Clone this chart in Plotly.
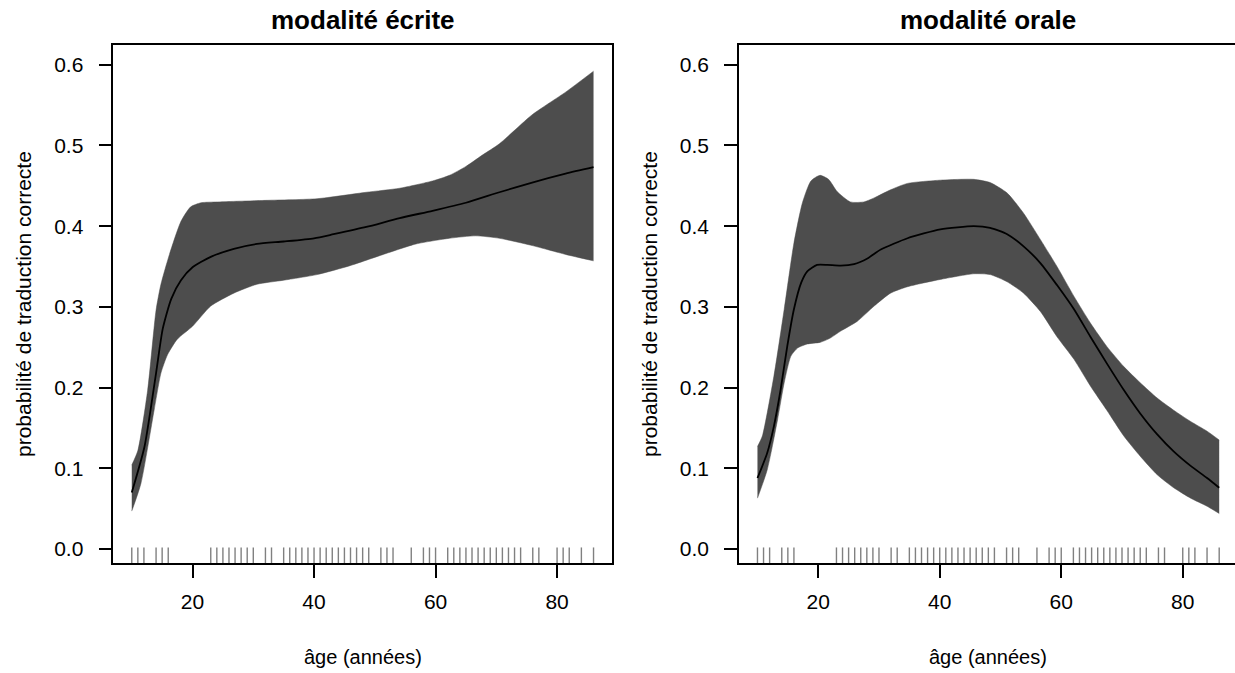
import plotly.graph_objects as go

# ---------------- data ----------------
rug_ages = [10, 11, 12, 14, 15, 16, 23, 24, 25, 26, 27, 28, 29, 30, 32, 33,
            35, 36, 37, 38, 39, 40, 41, 42, 43, 44, 45, 46, 47, 48, 49,
            51, 52, 53, 56, 58, 59, 60, 62, 63, 64, 65, 66, 67, 68, 69, 70,
            71, 72, 73, 74, 76, 77, 80, 81, 82, 84, 86]

# modalité écrite
ecr_mean_age = [10, 12.1, 14, 15.1, 16.5, 18.1, 20, 23, 26.8, 30.6, 35, 40, 43.2,
                48.6, 54.1, 59.5, 65, 70.5, 75.9, 81.4, 86]
ecr_mean = [0.070, 0.127, 0.218, 0.273, 0.310, 0.333, 0.349, 0.362, 0.372, 0.378,
            0.381, 0.385, 0.390, 0.399, 0.410, 0.419, 0.429, 0.442, 0.454, 0.465, 0.473]
ecr_up_age = [10, 11, 12.6, 14, 14.8, 16.2, 18.1, 19.7, 21.4, 24.1, 32.3, 40.5, 48.6,
              54.1, 59.5, 62.3, 65, 67.7, 70.5, 75.9, 81.4, 86]
ecr_up = [0.104, 0.122, 0.196, 0.296, 0.328, 0.365, 0.406, 0.424, 0.429, 0.430, 0.432,
          0.434, 0.442, 0.447, 0.456, 0.463, 0.474, 0.488, 0.502, 0.538, 0.566, 0.592]
ecr_lo_age = [10, 11.5, 13.7, 14.8, 15.9, 17.5, 20, 23, 26.8, 30.6, 35, 40.5, 45.9,
              51.4, 56.8, 62.3, 66.6, 70.5, 75.9, 81.4, 86]
ecr_lo = [0.047, 0.081, 0.173, 0.218, 0.241, 0.260, 0.276, 0.301, 0.317, 0.328, 0.333,
          0.340, 0.351, 0.365, 0.378, 0.385, 0.388, 0.385, 0.376, 0.365, 0.357]

# modalité orale
ora_mean_age = [10, 11.6, 12.7, 13.8, 14.9, 16, 17.2, 18.2, 19.8, 21.5, 23.7, 25.9,
                28.1, 30.3, 34.7, 40.1, 45.6, 48.3, 51.1, 53.8, 56.6, 59.3, 62.1,
                64.8, 67.5, 70.3, 73, 75.8, 78.5, 81.3, 84, 86]
ora_mean = [0.088, 0.119, 0.152, 0.197, 0.251, 0.297, 0.330, 0.344, 0.352, 0.352,
            0.351, 0.353, 0.360, 0.371, 0.385, 0.396, 0.400, 0.398, 0.390, 0.375,
            0.354, 0.327, 0.297, 0.263, 0.230, 0.197, 0.168, 0.142, 0.121, 0.103,
            0.088, 0.076]
ora_up_age = [10, 10.8, 12.7, 14.4, 16, 17.4, 18.8, 20.3, 21.7, 23.1, 25.3, 27.5,
              29.2, 31.9, 34.7, 40.1, 45.6, 48.3, 51.1, 53.8, 56.6, 59.3, 62.1,
              64.8, 67.5, 70.3, 73, 75.8, 78.5, 81.3, 84, 86]
ora_up = [0.127, 0.140, 0.214, 0.297, 0.379, 0.429, 0.456, 0.463, 0.458, 0.443,
          0.430, 0.430, 0.435, 0.445, 0.453, 0.457, 0.458, 0.454, 0.441, 0.416,
          0.383, 0.350, 0.313, 0.280, 0.251, 0.226, 0.206, 0.187, 0.172, 0.158,
          0.146, 0.135]
ora_lo_age = [10, 11.6, 13.3, 14.4, 15.5, 16.6, 18.2, 20.3, 21.9, 23.7, 26.4, 29.2,
              31.9, 34.7, 40.1, 45.6, 48.3, 51.1, 53.8, 56.6, 59.3, 62.1, 64.8,
              67.5, 70.3, 73, 75.8, 78.5, 81.3, 84, 86]
ora_lo = [0.063, 0.098, 0.160, 0.206, 0.239, 0.249, 0.254, 0.256, 0.261, 0.270,
          0.282, 0.301, 0.317, 0.325, 0.334, 0.341, 0.340, 0.331, 0.317, 0.294,
          0.263, 0.235, 0.202, 0.172, 0.140, 0.115, 0.092, 0.076, 0.063, 0.053,
          0.044]

titles = ["modalité écrite", "modalité orale"]
y_ticks = [0.0, 0.1, 0.2, 0.3, 0.4, 0.5, 0.6]
x_ticks = [20, 40, 60, 80]
x_label = "âge (années)"
y_label = "probabilité de traduction correcte"

# ---------------- layout constants ----------------
W, H = 1235, 673
YR = [-0.0173, 0.6248]
XR1 = [6.96, 89.04]
XR2 = [6.96, 88.6]
BAND = "#4D4D4D"
FONT = "Liberation Sans, Arial, sans-serif"

fig = go.Figure()


def add_panel(xa, ya, mean_x, mean_y, up_x, up_y, lo_x, lo_y):
    fig.add_trace(go.Scatter(
        x=lo_x, y=lo_y, mode="lines",
        line=dict(color=BAND, width=0.5, shape="spline", smoothing=0.6),
        xaxis=xa, yaxis=ya, hoverinfo="skip", showlegend=False))
    fig.add_trace(go.Scatter(
        x=up_x, y=up_y, mode="lines", fill="tonexty", fillcolor=BAND,
        line=dict(color=BAND, width=0.5, shape="spline", smoothing=0.6),
        xaxis=xa, yaxis=ya, hoverinfo="skip", showlegend=False))
    fig.add_trace(go.Scatter(
        x=mean_x, y=mean_y, mode="lines",
        line=dict(color="black", width=1.8, shape="spline", smoothing=0.6),
        xaxis=xa, yaxis=ya, showlegend=False))
    rx, ry = [], []
    rug_len = 0.03 * (YR[1] - YR[0])
    for a in rug_ages:
        rx += [a, a, None]
        ry += [YR[0], YR[0] + rug_len, None]
    fig.add_trace(go.Scatter(
        x=rx, y=ry, mode="lines", line=dict(color="#808080", width=1.4),
        xaxis=xa, yaxis=ya, hoverinfo="skip", showlegend=False))


add_panel("x", "y", ecr_mean_age, ecr_mean, ecr_up_age, ecr_up, ecr_lo_age, ecr_lo)
add_panel("x2", "y2", ora_mean_age, ora_mean, ora_up_age, ora_up, ora_lo_age, ora_lo)

ydom = [(H - 563) / H, (H - 44.7) / H]
x1dom = [113.3 / W, 612.0 / W]
x2dom = [739.0 / W, 1.0]

axis_common = dict(showgrid=False, zeroline=False, showline=True, linecolor="black",
                   linewidth=1.5, ticks="outside", ticklen=13, tickwidth=1.5,
                   tickcolor="black", tickfont=dict(family=FONT, size=21, color="black"))

fig.update_layout(
    width=W, height=H, margin=dict(l=0, r=0, t=0, b=0),
    paper_bgcolor="white", plot_bgcolor="white",
    xaxis=dict(domain=x1dom, range=XR1, anchor="y", tickvals=x_ticks, mirror=True,
               ticklabelstandoff=6, **axis_common),
    yaxis=dict(domain=ydom, range=YR, anchor="x", tickvals=y_ticks, mirror=True,
               tickformat=".1f", ticklabelstandoff=11, **axis_common),
    xaxis2=dict(domain=x2dom, range=XR2, anchor="y2", tickvals=x_ticks, mirror=True,
                ticklabelstandoff=6, **axis_common),
    yaxis2=dict(domain=ydom, range=YR, anchor="x2", tickvals=y_ticks, mirror=False,
                tickformat=".1f", ticklabelstandoff=11, **axis_common),
)

ann = []
centers = [(113.3 + 612.0) / 2, (739.0 + 1237.0) / 2]
ylab_x = [24, 650]
for i in range(2):
    ann.append(dict(text="<b>%s</b>" % titles[i], x=centers[i] / W, y=(H - 20) / H,
                    xref="paper", yref="paper", showarrow=False, xanchor="center",
                    yanchor="middle", font=dict(family=FONT, size=26, color="black")))
    ann.append(dict(text=x_label, x=centers[i] / W, y=(H - 657) / H,
                    xref="paper", yref="paper", showarrow=False, xanchor="center",
                    yanchor="middle", font=dict(family=FONT, size=20, color="black")))
    ann.append(dict(text=y_label, x=ylab_x[i] / W, y=(H - 304) / H, textangle=-90,
                    xref="paper", yref="paper", showarrow=False, xanchor="center",
                    yanchor="middle", font=dict(family=FONT, size=21, color="black")))
fig.update_layout(annotations=ann)

fig.write_html("out.html")
